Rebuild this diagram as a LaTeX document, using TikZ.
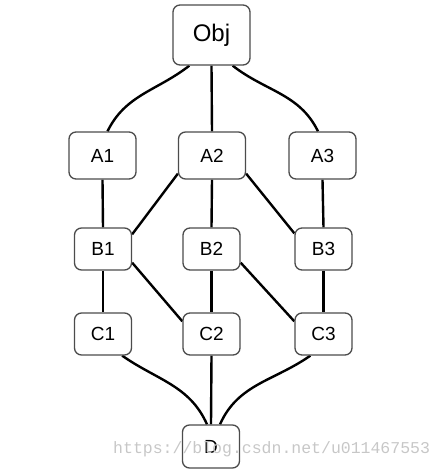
\documentclass[tikz,border=0pt]{standalone}
\usepackage{fontspec}
\setmainfont{Liberation Sans}
\newfontfamily\wmfont{Liberation Mono}
\usetikzlibrary{backgrounds}
\begin{document}
\begin{tikzpicture}[x=1pt,y=-1pt,
  box/.style={draw=black!70, line width=1.3pt, rounded corners=7pt, fill=white, inner sep=0pt, font=\fontsize{19}{19}\selectfont},
  small/.style={box, minimum width=57pt, minimum height=42pt},
  mid/.style={box, minimum width=67pt, minimum height=47pt},
  big/.style={box, minimum width=77pt, minimum height=60pt, font=\fontsize{24}{24}\selectfont},
  edge/.style={line width=2.4pt, black}]
\useasboundingbox (0,0) rectangle (445,472);
\node[big] (Obj) at (211.5,35) {Obj};
\node[mid] (A1) at (102.5,155.5) {A1};
\node[mid] (A2) at (212,155.5) {A2};
\node[mid] (A3) at (322.5,155.5) {A3};
\node[small] (B1) at (103,249) {B1};
\node[small] (B2) at (211.5,249) {B2};
\node[small] (B3) at (323.5,249) {B3};
\node[small] (C1) at (103,334) {C1};
\node[small] (C2) at (211.5,334) {C2};
\node[small] (C3) at (323.5,334) {C3};
\node[small, minimum height=43pt] (D) at (211,446.5) {D};
\begin{scope}[on background layer]
\draw[edge] ([xshift=17pt]Obj.south west) to[out=-142,in=64] ([xshift=5pt]A1.north);
\draw[edge] (Obj.south) -- (A2.north);
\draw[edge] ([xshift=-18pt]Obj.south east) to[out=-38,in=116] ([xshift=-4.5pt]A3.north);
\draw[edge] (A1.south) -- (B1.north);
\draw[edge] (A2.south) -- (B2.north);
\draw[edge] (A3.south) -- (B3.north);
\draw[edge] ([yshift=6pt]A2.south west) -- ([yshift=-7pt]B1.north east);
\draw[edge] ([yshift=6pt]A2.south east) -- ([yshift=-6pt]B3.north west);
\draw[edge] (B1.south) -- (C1.north);
\draw[edge] (B2.south) -- (C2.north);
\draw[edge] (B3.south) -- (C3.north);
\draw[edge] ([yshift=8pt]B1.south east) -- ([yshift=-9pt]C2.north west);
\draw[edge] ([yshift=8pt]B2.south east) -- ([yshift=-9pt]C3.north west);
\draw[edge] ([xshift=-10pt]C1.south east) to[out=-35,in=114] ([xshift=-4pt]D.north);
\draw[edge] (C2.south) -- (D.north);
\draw[edge] ([xshift=16pt]C3.south west) to[out=-145,in=66] ([xshift=9pt]D.north);
\end{scope}
\node[text=black!22, font=\wmfont\fontsize{16.5}{16.5}\selectfont, inner sep=0pt, anchor=base west] (wm) at (113,453) {https://blog.csdn.net/u011467553};
\end{tikzpicture}
\end{document}
